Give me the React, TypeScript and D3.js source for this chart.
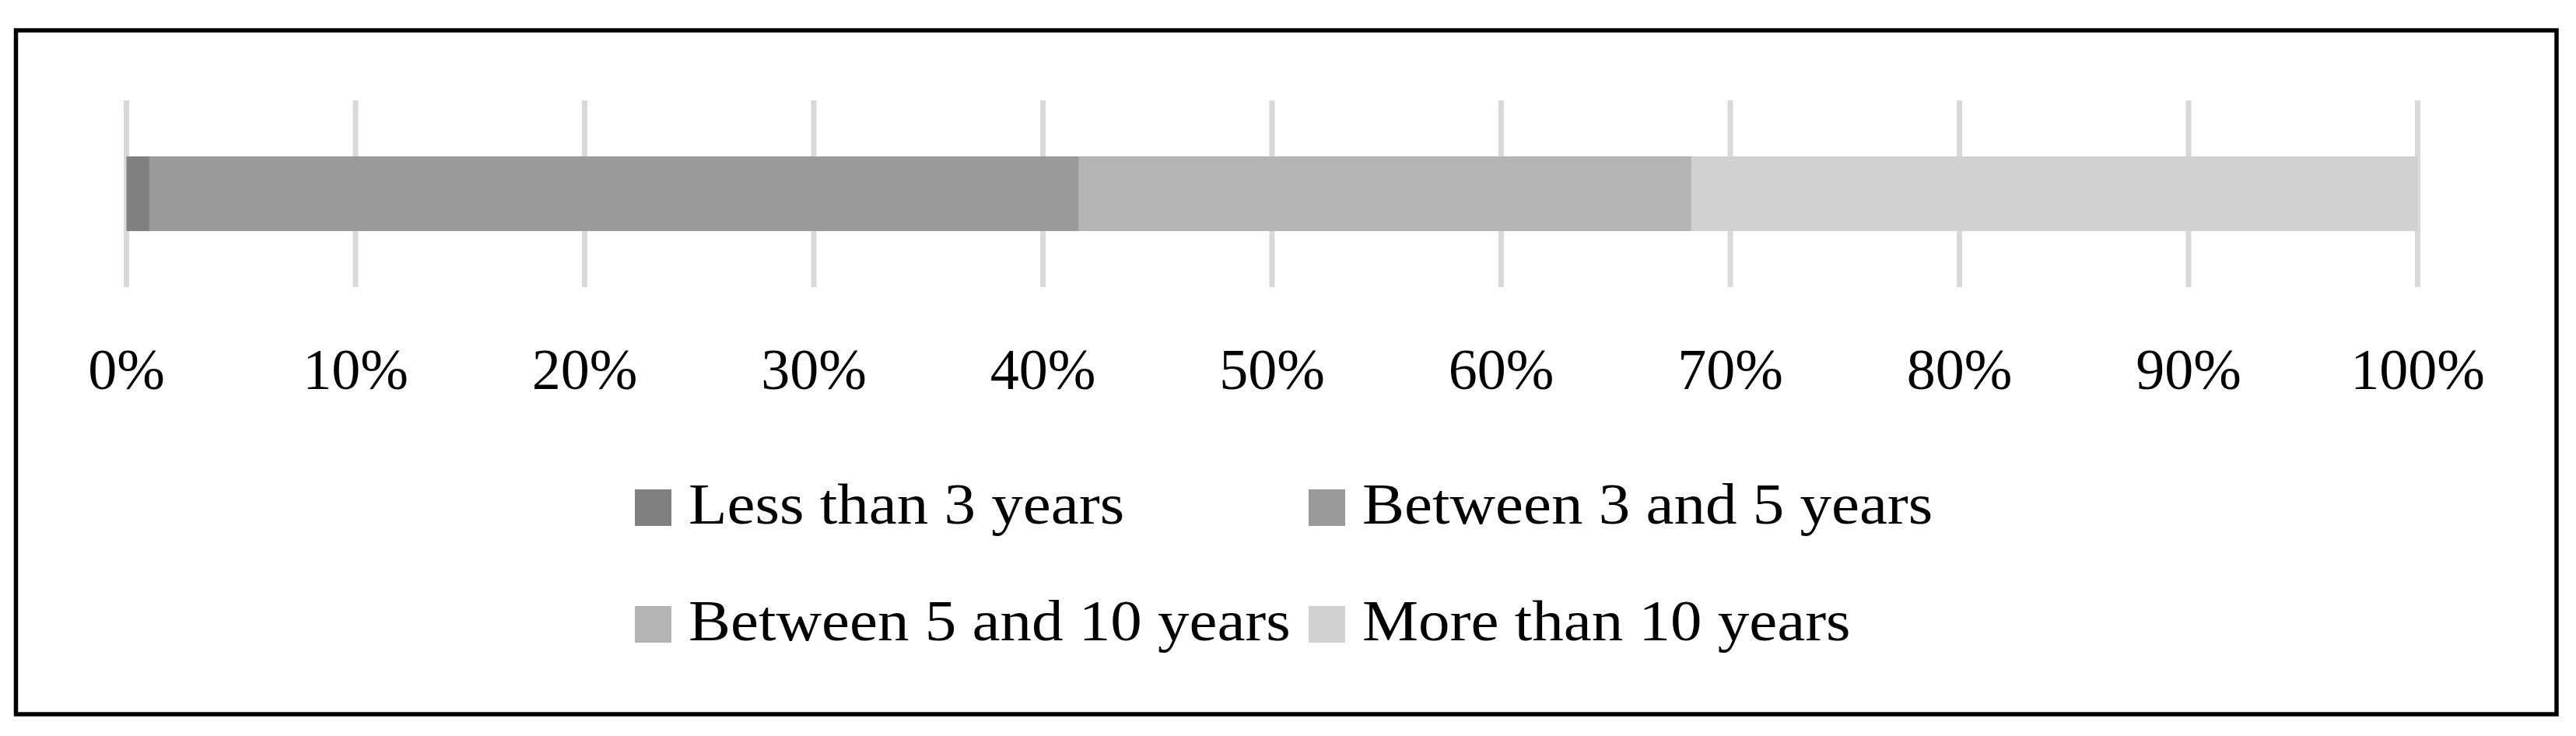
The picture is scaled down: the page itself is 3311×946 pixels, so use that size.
import React from "react";
import * as d3 from "d3";

const categories = ["Experience"];
const seriesNames = [
  "Less than 3 years",
  "Between 3 and 5 years",
  "Between 5 and 10 years",
  "More than 10 years",
];
const seriesValues = [1.0, 40.57, 26.73, 31.7];
const seriesColors = ["#808080", "#9a9a9a", "#b4b4b4", "#d1d1d1"];
const tickValues = [0, 10, 20, 30, 40, 50, 60, 70, 80, 90, 100];

const W = 3311;
const H = 946;
const FONT = "'Liberation Serif', 'Times New Roman', serif";

export default function App() {
  const x = d3.scaleLinear().domain([0, 100]).range([162.5, 3107.5]);
  const y = d3
    .scaleBand<string>()
    .domain(categories)
    .range([129, 369])
    .paddingInner(0.4286)
    .paddingOuter(0.4286);

  const row: Record<string, number | string> = { cat: categories[0] };
  seriesNames.forEach((n, i) => (row[n] = seriesValues[i]));
  const stacked = d3.stack<any>().keys(seriesNames)([row]);

  const legendCols = [816, 1682];
  const legendRows = [629, 779];

  return (
    <svg
      width={W}
      height={H}
      style={{ position: "absolute", left: 0, top: 0, background: "#fff" }}
    >
      <rect x={0} y={0} width={W} height={H} fill="#fff" />
      <rect
        x={20.5}
        y={39}
        width={3286 - 20.5}
        height={918 - 39}
        fill="none"
        stroke="#000"
        strokeWidth={5.5}
      />
      {tickValues.map((t) => (
        <line
          key={t}
          x1={x(t)}
          x2={x(t)}
          y1={y.range()[0]}
          y2={y.range()[1]}
          stroke="#d9d9d9"
          strokeWidth={7}
        />
      ))}
      {stacked.map((s, i) =>
        s.map((d, j) => (
          <rect
            key={`${i}-${j}`}
            x={x(d[0])}
            y={y(categories[j])}
            width={x(d[1]) - x(d[0])}
            height={y.bandwidth()}
            fill={seriesColors[i]}
          />
        ))
      )}
      {tickValues.map((t) => (
        <text
          key={`l${t}`}
          x={x(t)}
          y={500}
          textAnchor="middle"
          fontFamily={FONT}
          fontSize={74}
          fill="#000"
        >
          {`${t}%`}
        </text>
      ))}
      {seriesNames.map((n, i) => {
        const cx = legendCols[i % 2];
        const cy = legendRows[Math.floor(i / 2)];
        return (
          <g key={n}>
            <rect x={cx} y={cy} width={47} height={47} fill={seriesColors[i]} />
            <g transform={`translate(${cx + 69},${cy + 44}) scale(1.095,1)`}>
              <text x={0} y={0} fontFamily={FONT} fontSize={74} fill="#000">
                {n}
              </text>
            </g>
          </g>
        );
      })}
    </svg>
  );
}
